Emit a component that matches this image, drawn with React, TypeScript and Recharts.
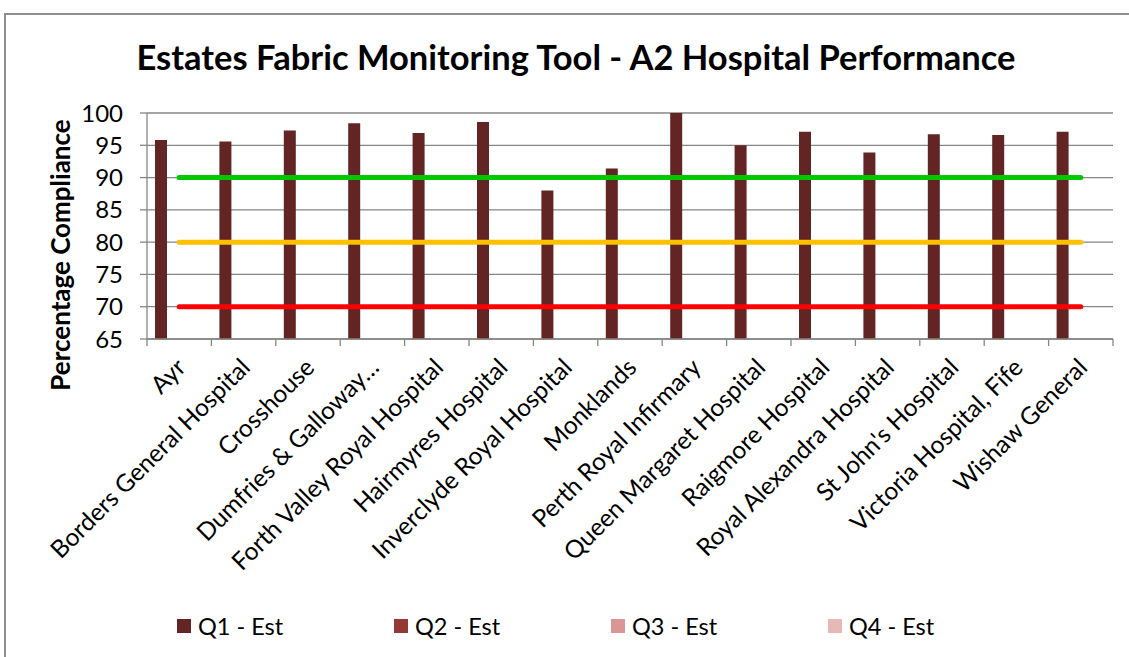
import React from 'react'
import {
  ComposedChart,
  Bar,
  Line,
  XAxis,
  YAxis,
  CartesianGrid,
  Legend,
} from 'recharts'

const hospitals = [
  'Ayr',
  'Borders General Hospital',
  'Crosshouse',
  'Dumfries & Galloway Royal Infirmary',
  'Forth Valley Royal Hospital',
  'Hairmyres Hospital',
  'Inverclyde Royal Hospital',
  'Monklands',
  'Perth Royal Infirmary',
  'Queen Margaret Hospital',
  'Raigmore Hospital',
  'Royal Alexandra Hospital',
  "St John's Hospital",
  'Victoria Hospital, Fife',
  'Wishaw General',
]

const q1Est = [95.8, 95.6, 97.3, 98.4, 96.9, 98.6, 88.0, 91.4, 100, 95.0, 97.1, 93.9, 96.7, 96.6, 97.1]
const q2Est: number[] = []
const q3Est: number[] = []
const q4Est: number[] = []

const greenTarget = 90
const amberTarget = 80
const redTarget = 70

const yTicks = [65, 70, 75, 80, 85, 90, 95, 100]

const series = [
  { key: 'q1', name: 'Q1 - Est', color: '#632523' },
  { key: 'q2', name: 'Q2 - Est', color: '#953735' },
  { key: 'q3', name: 'Q3 - Est', color: '#d99694' },
  { key: 'q4', name: 'Q4 - Est', color: '#e6b9b8' },
]

const rows = hospitals.map((name, i) => ({
  name,
  q1: q1Est[i] ?? null,
  q2: q2Est[i] ?? null,
  q3: q3Est[i] ?? null,
  q4: q4Est[i] ?? null,
  green: greenTarget,
  amber: amberTarget,
  red: redTarget,
}))

const W = 1129
const H = 657
const PLOT_LEFT = 147
const PLOT_RIGHT = 1113
const PLOT_BOTTOM = 339
const BAND = (PLOT_RIGHT - PLOT_LEFT) / hospitals.length
const GRID = '#868686'
const FONT = 'Lato, "Liberation Sans", sans-serif'

const shortName = (s: string) => (s.length > 30 ? s.slice(0, 19) + '…' : s)

function HospitalTick(props: any) {
  const { x, payload, index } = props
  const tx = x + 8
  const ty = PLOT_BOTTOM + 30
  return (
    <g>
      <line x1={x - BAND / 2} x2={x - BAND / 2} y1={PLOT_BOTTOM} y2={PLOT_BOTTOM + 7} stroke={GRID} strokeWidth={1.3} />
      {index === hospitals.length - 1 && (
        <line x1={x + BAND / 2} x2={x + BAND / 2} y1={PLOT_BOTTOM} y2={PLOT_BOTTOM + 7} stroke={GRID} strokeWidth={1.3} />
      )}
      <text
        x={tx}
        y={ty}
        textAnchor="end"
        transform={`rotate(-45, ${tx}, ${ty})`}
        fontSize={24.5}
        fontFamily={FONT}
        fill="#000"
      >
        {shortName(payload.value)}
      </text>
    </g>
  )
}

function YTitle(props: any) {
  const { viewBox } = props
  const cx = 60
  const cy = viewBox.y + viewBox.height / 2 + 29
  return (
    <text
      x={cx}
      y={cy}
      textAnchor="middle"
      dominantBaseline="central"
      transform={`rotate(-90, ${cx}, ${cy})`}
      fontSize={26}
      fontWeight={700}
      fontFamily={FONT}
      fill="#000"
    >
      Percentage Compliance
    </text>
  )
}

function QuarterLegend() {
  return (
    <div style={{ display: 'flex', height: 30, paddingLeft: 177, fontFamily: FONT, fontSize: 23.5 }}>
      {series.map((s) => (
        <div key={s.key} style={{ width: 217, display: 'flex', alignItems: 'center' }}>
          <span style={{ width: 14, height: 14, background: s.color, marginRight: 7, display: 'inline-block' }} />
          <span style={{ lineHeight: '30px' }}>{s.name}</span>
        </div>
      ))}
    </div>
  )
}

export default function App() {
  return (
    <div style={{ position: 'absolute', left: 0, top: 0, width: W, height: H, overflow: 'hidden', background: '#fff' }}>
      <div
        style={{
          position: 'absolute',
          left: 4,
          top: 13,
          width: W + 20,
          height: H + 20,
          borderLeft: '2px solid #8f8f8f',
          borderTop: '2px solid #8f8f8f',
        }}
      />
      <div
        style={{
          position: 'absolute',
          left: 0,
          width: 1152,
          top: 37,
          textAlign: 'center',
          fontFamily: FONT,
          fontWeight: 700,
          fontSize: 34.5,
          lineHeight: '40px',
          color: '#000',
          whiteSpace: 'nowrap',
        }}
      >
        Estates Fabric Monitoring Tool - A2 Hospital Performance
      </div>
      <div style={{ position: 'absolute', left: 0, top: 0 }}>
        <ComposedChart
          width={W}
          height={H}
          data={rows}
          margin={{ top: 113, right: W - PLOT_RIGHT, bottom: 0, left: 0 }}
          barSize={12}
          barGap={0}
          barCategoryGap={0}
        >
          <CartesianGrid vertical={false} stroke={GRID} strokeWidth={1.3} />
          <XAxis
            dataKey="name"
            interval={0}
            height={288}
            tickLine={false}
            axisLine={{ stroke: GRID, strokeWidth: 1.3 }}
            tick={<HospitalTick />}
          />
          <YAxis
            type="number"
            domain={[65, 100]}
            ticks={yTicks}
            allowDataOverflow
            width={PLOT_LEFT}
            tickSize={7}
            tickMargin={17}
            axisLine={{ stroke: GRID, strokeWidth: 1.3 }}
            tickLine={{ stroke: GRID, strokeWidth: 1.3 }}
            tick={{ fill: '#000', fontSize: 24, fontFamily: FONT }}
            label={<YTitle />}
          />
          <Legend
            verticalAlign="bottom"
            content={<QuarterLegend />}
            wrapperStyle={{ left: 0, top: 611, width: W }}
          />
          {series.map((s) => (
            <Bar key={s.key} dataKey={s.key} name={s.name} fill={s.color} isAnimationActive={false} />
          ))}
          <Line dataKey="green" stroke="#00c800" strokeWidth={5} strokeLinecap="round" dot={false} activeDot={false} legendType="none" isAnimationActive={false} />
          <Line dataKey="amber" stroke="#ffc000" strokeWidth={5} strokeLinecap="round" dot={false} activeDot={false} legendType="none" isAnimationActive={false} />
          <Line dataKey="red" stroke="#ff0000" strokeWidth={5} strokeLinecap="round" dot={false} activeDot={false} legendType="none" isAnimationActive={false} />
        </ComposedChart>
      </div>
    </div>
  )
}
